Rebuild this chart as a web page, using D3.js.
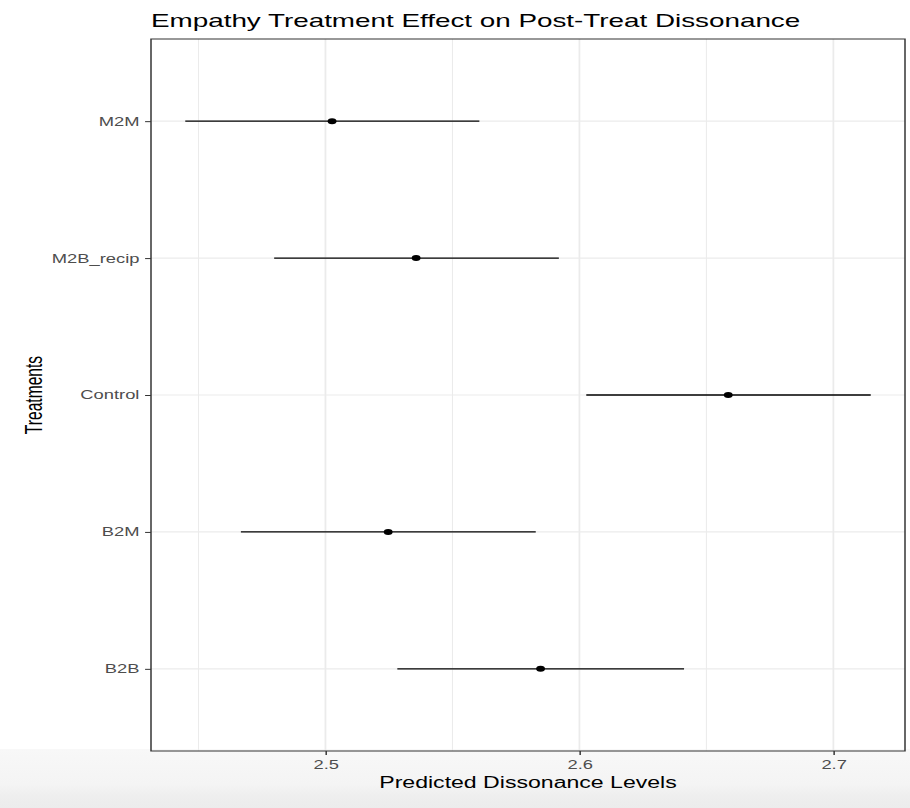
<!DOCTYPE html>
<html>
<head>
<meta charset="utf-8">
<script src="https://cdn.jsdelivr.net/npm/d3@7/dist/d3.min.js"></script>
<style>
  html, body { margin: 0; padding: 0; background: #ffffff; }
  svg { display: block; }
  text { font-family: "Liberation Sans", Arial, Helvetica, sans-serif; }
</style>
</head>
<body>
<script>
// Treatments listed bottom-to-top (factor order), with predicted dissonance and CI bounds
const treatments = ["B2B", "B2M", "Control", "M2B_recip", "M2M"];
const predicted  = [2.5847, 2.5247, 2.6586, 2.5357, 2.5026];
const lowerCI    = [2.5283, 2.4667, 2.6027, 2.4798, 2.4448];
const upperCI    = [2.6412, 2.5828, 2.7147, 2.5919, 2.5606];

const xMajorTicks = [2.5, 2.6, 2.7];
const xMinorTicks = [2.45, 2.55, 2.65];
const xTickLabels = ["2.5", "2.6", "2.7"];

const titleText  = "Empathy Treatment Effect on Post-Treat Dissonance";
const xTitleText = "Predicted Dissonance Levels";
const yTitleText = "Treatments";

const W = 910, H = 808;
const sx = 1.48;                         // horizontal stretch of the whole plot
const panelL = 151 / sx, panelR = 905 / sx, panelT = 39, panelB = 751;

const rows = treatments.map((t, i) => ({ t, p: predicted[i], lo: lowerCI[i], hi: upperCI[i] }));

const svg = d3.select("body").append("svg")
  .attr("width", W).attr("height", H);

// light footer band
const defs = svg.append("defs");
const grad = defs.append("linearGradient").attr("id", "band")
  .attr("x1", 0).attr("y1", 0).attr("x2", 0).attr("y2", 1);
grad.append("stop").attr("offset", "0%").attr("stop-color", "#f8f8f8");
grad.append("stop").attr("offset", "60%").attr("stop-color", "#f4f4f4");
grad.append("stop").attr("offset", "80%").attr("stop-color", "#eeeeee");
grad.append("stop").attr("offset", "100%").attr("stop-color", "#ececec");
svg.append("rect").attr("x", 0).attr("y", 749).attr("width", W).attr("height", H - 749)
  .attr("fill", "url(#band)");

const g = svg.append("g").attr("transform", `scale(${sx},1)`);

// scales: 5% expansion on the continuous axis, 0.6 padding on the discrete one
const lo = d3.min(lowerCI), hi = d3.max(upperCI);
const pad = (hi - lo) * 0.05;
const x = d3.scaleLinear().domain([lo - pad, hi + pad]).range([panelL, panelR]);
const y = d3.scalePoint().domain(treatments.slice().reverse()).range([panelT, panelB]).padding(0.6);

// grid
g.append("g").selectAll("line").data(xMinorTicks).join("line")
  .attr("x1", d => x(d)).attr("x2", d => x(d))
  .attr("y1", panelT).attr("y2", panelB)
  .attr("stroke", "#ebebeb").attr("stroke-width", 0.7);
g.append("g").selectAll("line").data(xMajorTicks).join("line")
  .attr("x1", d => x(d)).attr("x2", d => x(d))
  .attr("y1", panelT).attr("y2", panelB)
  .attr("stroke", "#ebebeb").attr("stroke-width", 1.2);
g.append("g").selectAll("line").data(treatments).join("line")
  .attr("x1", panelL).attr("x2", panelR)
  .attr("y1", d => y(d)).attr("y2", d => y(d))
  .attr("stroke", "#ebebeb").attr("stroke-width", 1.2);

// confidence intervals and point estimates
g.append("g").selectAll("line").data(rows).join("line")
  .attr("x1", d => x(d.lo)).attr("x2", d => x(d.hi))
  .attr("y1", d => y(d.t)).attr("y2", d => y(d.t))
  .attr("stroke", "#000").attr("stroke-width", 1.3);
g.append("g").selectAll("circle").data(rows).join("circle")
  .attr("cx", d => x(d.p)).attr("cy", d => y(d.t)).attr("r", 3.0)
  .attr("fill", "#000");

// panel border
g.append("rect")
  .attr("x", panelL).attr("y", panelT)
  .attr("width", panelR - panelL).attr("height", panelB - panelT)
  .attr("fill", "none").attr("stroke", "#333333").attr("stroke-width", 1.0);

// x axis
const xAxis = g.append("g").attr("transform", `translate(0,${panelB})`)
  .call(d3.axisBottom(x).tickValues(xMajorTicks)
    .tickFormat((d, i) => xTickLabels[i]).tickSize(4).tickPadding(4.9));
xAxis.select(".domain").remove();
xAxis.selectAll(".tick line").attr("stroke", "#333333").attr("stroke-width", 1.0);
xAxis.selectAll(".tick text").attr("fill", "#4d4d4d").attr("font-size", 12.4)
  .style("font-family", "'Liberation Sans', Arial, Helvetica, sans-serif");

// y axis
const yAxis = g.append("g").attr("transform", `translate(${panelL},0)`)
  .call(d3.axisLeft(y).tickSize(4).tickPadding(3.8));
yAxis.select(".domain").remove();
yAxis.selectAll(".tick line").attr("stroke", "#333333").attr("stroke-width", 1.0);
yAxis.selectAll(".tick text").attr("fill", "#4d4d4d").attr("font-size", 12.4)
  .style("font-family", "'Liberation Sans', Arial, Helvetica, sans-serif");

// titles
g.append("text").attr("x", panelL).attr("y", 27)
  .attr("font-size", 18.8).attr("fill", "#000").text(titleText);
g.append("text").attr("x", (panelL + panelR) / 2).attr("y", 788)
  .attr("text-anchor", "middle").attr("font-size", 15.6).attr("fill", "#000")
  .text(xTitleText);
g.append("text")
  .attr("transform", `translate(${41.5 / sx},${(panelT + panelB) / 2}) rotate(-90)`)
  .attr("text-anchor", "middle").attr("font-size", 15.6).attr("fill", "#000")
  .text(yTitleText);
</script>
</body>
</html>
